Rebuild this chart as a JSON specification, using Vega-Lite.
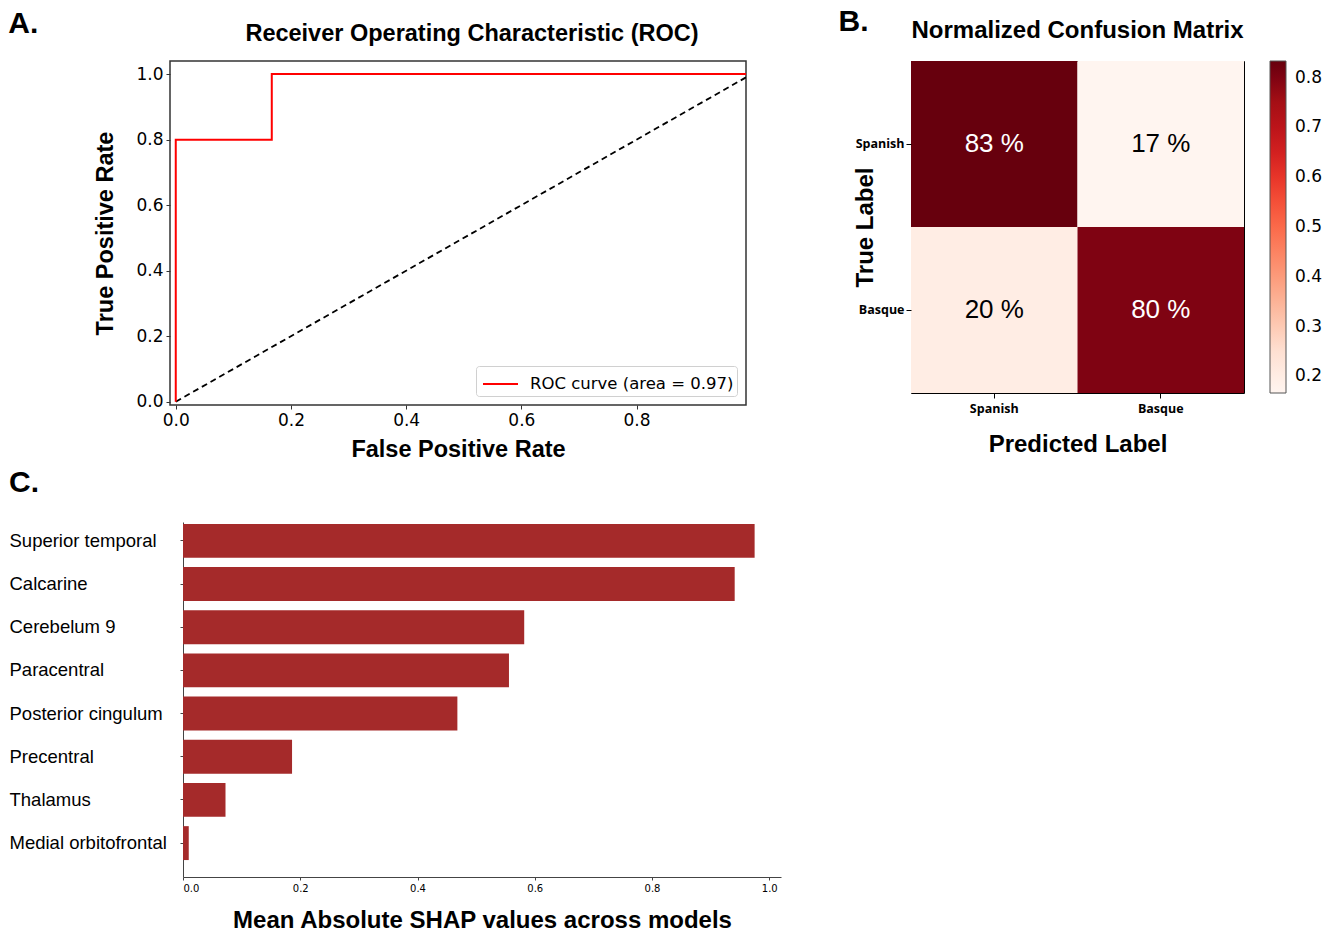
{
  "$schema": "https://vega.github.io/schema/vega-lite/v6.json",
  "background": "white",
  "padding": {"left": 8, "top": 6, "right": 4, "bottom": 0},
  "config": {
    "view": {"stroke": null},
    "font": "Liberation Sans",
    "title": {"font": "Liberation Sans", "fontWeight": "bold", "color": "black"},
    "axis": {"labelColor": "black", "titleColor": "black", "titleFont": "Liberation Sans", "titleFontWeight": "bold", "grid": false}
  },
  "resolve": {"scale": {"color": "independent"}, "legend": {"color": "independent"}},
  "spacing": 6,
  "vconcat": [
    {
      "spacing": 91,
      "resolve": {"scale": {"color": "independent"}, "legend": {"color": "independent"}},
      "hconcat": [
        {
          "title": {"text": "A.", "anchor": "start", "frame": "bounds", "fontSize": 30, "offset": -18, "dx": -85},
          "resolve": {"scale": {"color": "independent"}, "legend": {"color": "independent"}},
          "vconcat": [
            {
              "width": 576,
              "height": 344,
              "view": {"stroke": "#333333", "strokeWidth": 1.5},
              "title": {"text": "Receiver Operating Characteristic (ROC)", "fontSize": 23.5, "offset": 16, "dx": 14},
              "encoding": {
                "x": {"field": "fpr", "type": "quantitative", "scale": {"domain": [-0.01, 0.99], "nice": false, "zero": false},
                  "axis": {"values": [0, 0.2, 0.4, 0.6, 0.8], "format": ".1f", "title": "False Positive Rate", "titleFontSize": 23.5, "titlePadding": 9, "labelFont": "DejaVu Sans", "labelFontSize": 17, "tickSize": 4, "tickColor": "#333333", "domain": false, "labelPadding": 3}},
                "y": {"field": "tpr", "type": "quantitative", "scale": {"domain": [-0.01, 1.04], "nice": false, "zero": false},
                  "axis": {"values": [0, 0.2, 0.4, 0.6, 0.8, 1.0], "format": ".1f", "title": "True Positive Rate", "titleFontSize": 23.5, "titlePadding": 18, "labelFont": "DejaVu Sans", "labelFontSize": 17, "tickSize": 4, "tickColor": "#333333", "domain": false, "labelPadding": 3}}
              },
              "layer": [
                {
                  "data": {"values": [{"i": 0, "fpr": 0, "tpr": 0}, {"i": 1, "fpr": 1, "tpr": 1}]},
                  "mark": {"type": "line", "color": "black", "strokeDash": [6, 4], "strokeWidth": 1.8, "clip": true},
                  "encoding": {"order": {"field": "i", "type": "quantitative"}}
                },
                {
                  "data": {"values": [
                    {"i": 0, "fpr": 0, "tpr": 0, "series": "ROC curve (area = 0.97)"},
                    {"i": 1, "fpr": 0, "tpr": 0.8, "series": "ROC curve (area = 0.97)"},
                    {"i": 2, "fpr": 0.1667, "tpr": 0.8, "series": "ROC curve (area = 0.97)"},
                    {"i": 3, "fpr": 0.1667, "tpr": 1.0, "series": "ROC curve (area = 0.97)"},
                    {"i": 4, "fpr": 1.0, "tpr": 1.0, "series": "ROC curve (area = 0.97)"}
                  ]},
                  "mark": {"type": "line", "strokeWidth": 2, "clip": true},
                  "encoding": {
                    "order": {"field": "i", "type": "quantitative"},
                    "color": {"field": "series", "type": "nominal", "scale": {"range": ["#ff0000"]},
                      "legend": {"title": null, "orient": "bottom-right", "offset": 9, "padding": 3, "strokeColor": "#d0d0d0", "fillColor": "white", "cornerRadius": 3, "labelFont": "DejaVu Sans", "labelFontSize": 16.5, "labelColor": "black", "labelLimit": 400, "symbolType": "M-1.25,0H1.25", "symbolSize": 784, "symbolStrokeWidth": 2, "symbolOffset": 6.5, "labelOffset": 14.5}}
                  }
                }
              ]
            }
          ]
        },
        {
          "title": {"text": "B.", "anchor": "start", "frame": "bounds", "fontSize": 30, "offset": -18, "dx": -14},
          "resolve": {"scale": {"color": "independent"}, "legend": {"color": "independent"}},
          "vconcat": [
            {
              "width": 333,
              "height": 332,
              "view": {"stroke": "black", "strokeWidth": 1},
              "title": {"text": "Normalized Confusion Matrix", "fontSize": 24, "offset": 18},
              "data": {"values": [
                {"true_label": "Spanish", "pred_label": "Spanish", "v": 0.8333, "txt": "83 %"},
                {"true_label": "Spanish", "pred_label": "Basque", "v": 0.1667, "txt": "17 %"},
                {"true_label": "Basque", "pred_label": "Spanish", "v": 0.2, "txt": "20 %"},
                {"true_label": "Basque", "pred_label": "Basque", "v": 0.8, "txt": "80 %"}
              ]},
              "encoding": {
                "x": {"field": "pred_label", "type": "nominal", "sort": ["Spanish", "Basque"], "scale": {"paddingInner": 0, "paddingOuter": 0},
                  "axis": {"title": "Predicted Label", "titleFontSize": 24, "titlePadding": 18, "labelAngle": 0, "labelFont": "Open Sans", "labelFontWeight": "bold", "labelFontSize": 12.5, "tickSize": 5, "tickColor": "black", "domain": false, "labelPadding": 4}},
                "y": {"field": "true_label", "type": "nominal", "sort": ["Spanish", "Basque"], "scale": {"paddingInner": 0, "paddingOuter": 0},
                  "axis": {"title": "True Label", "titleFontSize": 24, "titleX": -46, "titleBaseline": "middle", "labelFont": "Open Sans", "labelFontWeight": "bold", "labelFontSize": 12.5, "tickSize": 5, "tickColor": "black", "domain": false, "labelPadding": 2}}
              },
              "layer": [
                {
                  "mark": {"type": "rect"},
                  "encoding": {
                    "color": {"field": "v", "type": "quantitative",
                      "scale": {"domain": [0.1667, 0.25, 0.3333, 0.4167, 0.5, 0.5833, 0.6667, 0.75, 0.8333], "range": ["#fff5f0", "#fee0d2", "#fcbba1", "#fc9272", "#fb6a4a", "#ef3b2c", "#cb181d", "#a50f15", "#67000d"]},
                      "legend": {"title": null, "orient": "right", "offset": 26, "direction": "vertical", "gradientLength": 332, "gradientThickness": 16, "values": [0.2, 0.3, 0.4, 0.5, 0.6, 0.7, 0.8], "format": ".1f", "labelFont": "DejaVu Sans", "labelFontSize": 17, "labelColor": "black", "labelOffset": 9, "labelOverlap": false, "gradientStrokeColor": "#555555", "gradientStrokeWidth": 1}}
                  }
                },
                {
                  "mark": {"type": "text", "fontSize": 26, "font": "Liberation Sans"},
                  "encoding": {
                    "text": {"field": "txt"},
                    "color": {"condition": {"test": "datum.v > 0.5", "value": "white"}, "value": "black"}
                  }
                }
              ]
            }
          ]
        }
      ]
    },
    {
      "width": 611,
      "height": 355,
      "title": {"text": "C.", "anchor": "start", "frame": "bounds", "fontSize": 30, "offset": 24},
      "data": {"values": [
        {"region": "Superior temporal", "shap": 0.975},
        {"region": "Calcarine", "shap": 0.941},
        {"region": "Cerebelum 9", "shap": 0.582},
        {"region": "Paracentral", "shap": 0.556},
        {"region": "Posterior cingulum", "shap": 0.468},
        {"region": "Precentral", "shap": 0.186},
        {"region": "Thalamus", "shap": 0.0725},
        {"region": "Medial orbitofrontal", "shap": 0.0098}
      ]},
      "mark": {"type": "bar", "color": "#a52a2a"},
      "encoding": {
        "y": {"field": "region", "type": "nominal", "sort": null, "scale": {"paddingInner": 0.215, "paddingOuter": 0.218, "align": 0.1},
          "axis": {"title": null, "offset": -13, "labelAlign": "left", "labelPadding": 171, "labelFont": "Liberation Sans", "labelFontSize": 18.5, "tickSize": 3, "tickColor": "#444444", "domainColor": "#444444"}},
        "x": {"field": "shap", "type": "quantitative", "scale": {"domain": [0, 1.02], "nice": false, "range": [13, 611]},
          "axis": {"values": [0, 0.2, 0.4, 0.6, 0.8, 1.0], "format": ".1f", "title": "Mean Absolute SHAP values across models", "titleFontSize": 24, "titlePadding": 15, "labelFont": "DejaVu Sans", "labelFontSize": 10, "tickSize": 3, "tickColor": "#444444", "domainColor": "#444444", "labelPadding": 3}}
      }
    }
  ]
}
